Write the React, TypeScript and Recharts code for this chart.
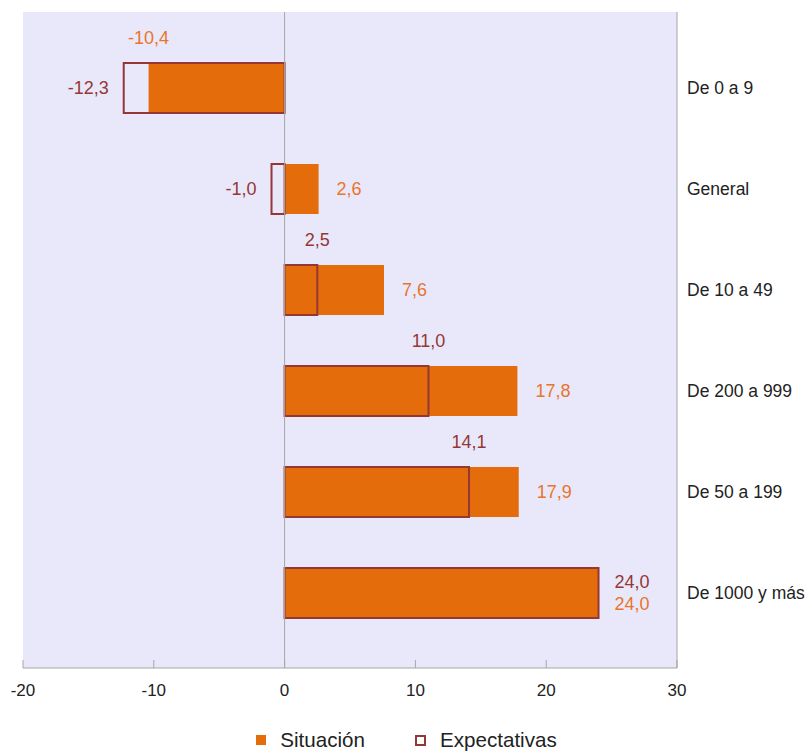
import React from 'react';
import {
  BarChart,
  Bar,
  XAxis,
  YAxis,
  CartesianGrid,
  ReferenceLine,
  LabelList,
  Legend,
} from 'recharts';

const categories = ['De 0 a 9', 'General', 'De 10 a 49', 'De 200 a 999', 'De 50 a 199', 'De 1000 y más'];
const situacion = [-10.4, 2.6, 7.6, 17.8, 17.9, 24.0];
const expectativas = [-12.3, -1.0, 2.5, 11.0, 14.1, 24.0];
const xTicks = [-20, -10, 0, 10, 20, 30];

const data = categories.map((name, i) => ({
  name,
  situacion: situacion[i],
  expectativas: expectativas[i],
}));

const SIT_COLOR = '#E46C0A';
const SIT_LABEL = '#E8752A';
const EXP_COLOR = '#953735';
const BG = '#E8E8FA';
const BORDER = '#A6A6A6';
const FONT = 'Liberation Sans, Arial, sans-serif';

function fmt(v: number) {
  return v.toFixed(1).replace('.', ',');
}

function makeLabel(series: 'sit' | 'exp') {
  return (props: any) => {
    const vb = props.viewBox || {};
    const x = props.x ?? vb.x;
    const y = props.y ?? vb.y;
    const width = props.width ?? vb.width;
    const height = props.height ?? vb.height;
    let index = props.index;
    const value = Number(props.value);
    if (index === undefined || index === null) {
      const arr = series === 'sit' ? situacion : expectativas;
      index = arr.indexOf(value);
    }
    const sit = situacion[index];
    const exp = expectativas[index];
    const v = series === 'sit' ? sit : exp;
    const a = x;
    const b = x + width;
    const end = v < 0 ? Math.min(a, b) : Math.max(a, b);
    const top = Math.min(y, y + height);
    const cy = y + height / 2;
    const fill = series === 'sit' ? SIT_LABEL : EXP_COLOR;
    let tx = 0;
    let ty = 0;
    let anchor: 'start' | 'middle' | 'end' = 'start';
    if (sit === exp) {
      tx = end + 16;
      ty = cy + (series === 'sit' ? 11 : -11);
      anchor = 'start';
    } else if (series === 'sit') {
      if (v < 0) {
        tx = end;
        ty = top - 25;
        anchor = 'middle';
      } else {
        tx = end + 18;
        ty = cy;
        anchor = 'start';
      }
    } else {
      if (v < 0) {
        tx = end - 15;
        ty = cy;
        anchor = 'end';
      } else {
        tx = end;
        ty = top - 25;
        anchor = 'middle';
      }
    }
    return (
      <text
        x={tx}
        y={ty}
        fill={fill}
        fontSize={18}
        fontFamily={FONT}
        textAnchor={anchor}
        dominantBaseline="central"
      >
        {fmt(v)}
      </text>
    );
  };
}

const CategoryTick = (props: any) => {
  const { x, y, payload } = props;
  return (
    <text
      x={x}
      y={y}
      fill="#222"
      fontSize={17.5}
      fontFamily={FONT}
      textAnchor="start"
      dominantBaseline="central"
    >
      {payload.value}
    </text>
  );
};

const XTick = (props: any) => {
  const { x, y, payload } = props;
  return (
    <g>
      <line x1={x} x2={x} y1={y} y2={y - 8} stroke={BORDER} strokeWidth={1} />
      <text
        x={x}
        y={y + 22}
        fill="#222"
        fontSize={17}
        fontFamily={FONT}
        textAnchor="middle"
        dominantBaseline="central"
      >
        {payload.value}
      </text>
    </g>
  );
};

const LegendContent = () => (
  <div style={{ position: 'relative', height: 50 }}>
    <div
      style={{
        position: 'absolute',
        left: -12,
        right: 0,
        top: 37,
        transform: 'translateY(-50%)',
        display: 'flex',
        justifyContent: 'center',
        alignItems: 'center',
        fontFamily: FONT,
        fontSize: 20.6,
        lineHeight: '22px',
        color: '#222',
        whiteSpace: 'nowrap',
      }}
    >
      <div style={{ display: 'flex', alignItems: 'center', marginRight: 50 }}>
        <span style={{ width: 10, height: 10, background: SIT_COLOR, display: 'inline-block', marginRight: 14 }} />
        <span>Situación</span>
      </div>
      <div style={{ display: 'flex', alignItems: 'center' }}>
        <span
          style={{
            width: 7,
            height: 7,
            border: `2px solid ${EXP_COLOR}`,
            background: '#fff',
            display: 'inline-block',
            marginRight: 14,
          }}
        />
        <span>Expectativas</span>
      </div>
    </div>
  </div>
);

export default function App() {
  return (
    <div
      style={{
        width: 808,
        height: 753,
        padding: 8,
        boxSizing: 'border-box',
        overflow: 'visible',
      }}
    >
      <style>{'html,body{margin:0;padding:0;overflow:hidden;}'}</style>
      <BarChart
        width={800}
        height={745}
        data={data}
        layout="vertical"
        margin={{ top: 4, right: 6, left: 15, bottom: 0 }}
        barSize={50}
        barGap={-50}
        style={{ overflow: 'visible' }}
      >
        <CartesianGrid fill={BG} fillOpacity={1} horizontal={false} vertical={false} />
        <XAxis
          type="number"
          domain={[-20, 30]}
          ticks={xTicks}
          interval={0}
          height={35}
          axisLine={{ stroke: BORDER }}
          tickLine={false}
          tickSize={0}
          tickMargin={0}
          tick={<XTick />}
          allowDataOverflow
        />
        <XAxis
          xAxisId="top"
          orientation="top"
          type="number"
          domain={[-20, 30]}
          height={0}
          tick={false}
          tickLine={false}
          axisLine={{ stroke: BORDER }}
        />
        <YAxis
          type="category"
          dataKey="name"
          orientation="right"
          width={125}
          axisLine={{ stroke: BORDER }}
          tickLine={false}
          tickSize={0}
          tickMargin={10}
          padding={{ top: 25, bottom: 25 }}
          tick={<CategoryTick />}
          interval={0}
        />
        <YAxis
          yAxisId="left"
          type="category"
          dataKey="name"
          orientation="left"
          width={0}
          tick={false}
          tickLine={false}
          axisLine={{ stroke: BORDER }}
        />
        <ReferenceLine x={0} stroke={BORDER} strokeWidth={1} />
        <Legend verticalAlign="bottom" height={50} content={<LegendContent />} />
        <Bar dataKey="situacion" name="Situación" fill={SIT_COLOR} isAnimationActive={false}>
          <LabelList dataKey="situacion" content={makeLabel('sit')} />
        </Bar>
        <Bar
          dataKey="expectativas"
          name="Expectativas"
          fill="none"
          stroke={EXP_COLOR}
          strokeWidth={2}
          isAnimationActive={false}
        >
          <LabelList dataKey="expectativas" content={makeLabel('exp')} />
        </Bar>
      </BarChart>
    </div>
  );
}
